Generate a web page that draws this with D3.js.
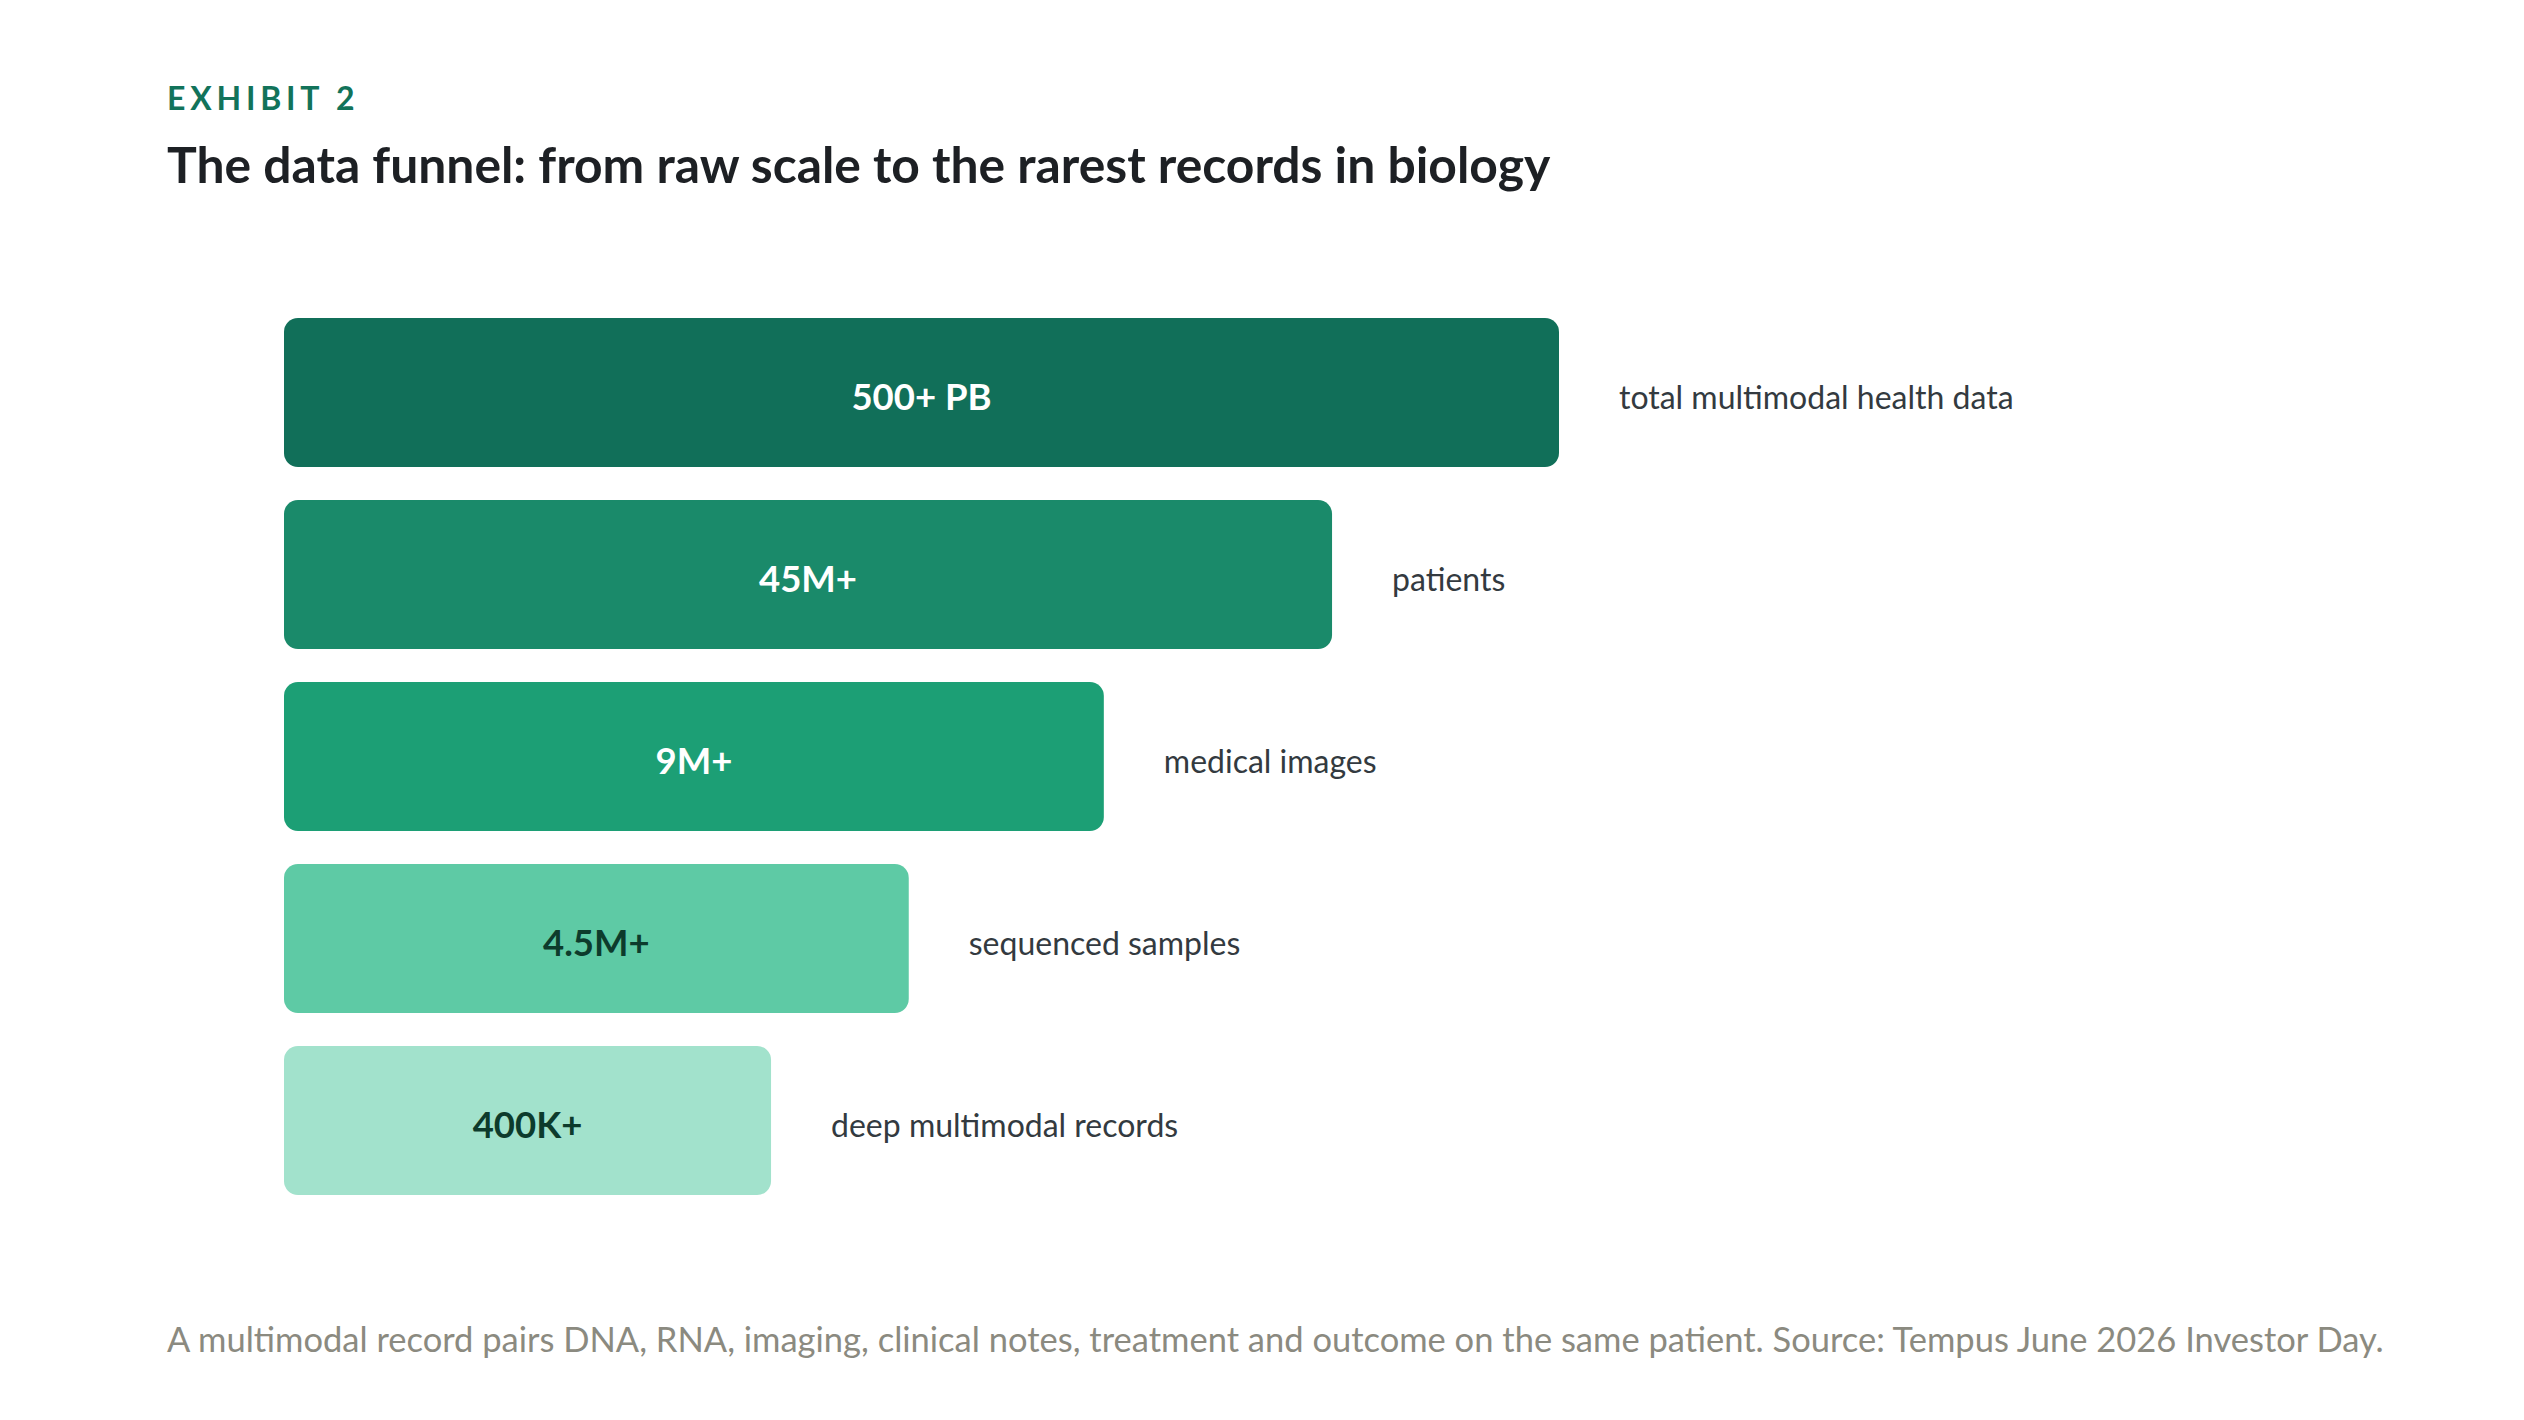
<!DOCTYPE html>
<html><head><meta charset="utf-8">
<script src="https://cdn.jsdelivr.net/npm/d3@7/dist/d3.min.js"></script>
<style>html,body{margin:0;padding:0;background:#fff;}svg{display:block;}</style>
</head><body>
<svg id="chart" width="2524" height="1420"></svg>
<script>
const categories = ["total multimodal health data","patients","medical images","sequenced samples","deep multimodal records"];
const valueLabels = ["500+ PB","45M+","9M+","4.5M+","400K+"];
const funnelShare = [100, 82.2, 64.3, 49, 38.2];
const barColors = ["#116f59","#1a8a6a","#1c9f75","#5ecaa5","#a2e2cc"];
const labelColors = ["#ffffff","#ffffff","#ffffff","#0d3b2c","#0d3b2c"];

const svg = d3.select("#chart");
const font = "Lato, 'Noto Sans', sans-serif";

svg.append("text").attr("x",167).attr("y",110)
  .attr("font-family",font).attr("font-weight",700).attr("font-size",32)
  .attr("letter-spacing","0.15em").attr("fill","#12735a").text("EXHIBIT 2");
svg.append("text").attr("x",167).attr("y",183)
  .attr("font-family",font).attr("font-weight",700).attr("font-size",49.8)
  .attr("fill","#1d2024").text("The data funnel: from raw scale to the rarest records in biology");

const x0 = 284;
const x = d3.scaleLinear().domain([0,100]).range([0,1275]);
const y = d3.scaleBand().domain(categories).range([318,1195]).paddingInner(33/182).paddingOuter(0);

const rows = categories.map((c,i)=>({c, v:valueLabels[i], s:funnelShare[i], col:barColors[i], lc:labelColors[i]}));
const g = svg.append("g").attr("transform",`translate(${x0},0)`);
const row = g.selectAll("g.row").data(rows).join("g").attr("class","row");
row.append("rect").attr("x",0).attr("y",d=>y(d.c)).attr("width",d=>x(d.s)).attr("height",y.bandwidth())
  .attr("rx",14).attr("fill",d=>d.col);
row.append("text").attr("x",d=>x(d.s)/2).attr("y",d=>y(d.c)+y.bandwidth()/2+5)
  .attr("dy","0.35em").attr("text-anchor","middle")
  .attr("font-family",font).attr("font-weight",700).attr("font-size",36.5).attr("fill",d=>d.lc).text(d=>d.v);
row.append("text").attr("x",d=>x(d.s)+60).attr("y",d=>y(d.c)+y.bandwidth()/2+5)
  .attr("dy","0.35em").attr("font-family",font).attr("font-size",32).attr("fill","#333a40").text(d=>d.c);

svg.append("text").attr("x",167).attr("y",1352)
  .attr("font-family",font).attr("font-size",34.5).attr("fill","#8b8a80")
  .text("A multimodal record pairs DNA, RNA, imaging, clinical notes, treatment and outcome on the same patient. Source: Tempus June 2026 Investor Day.");
</script>
</body></html>
